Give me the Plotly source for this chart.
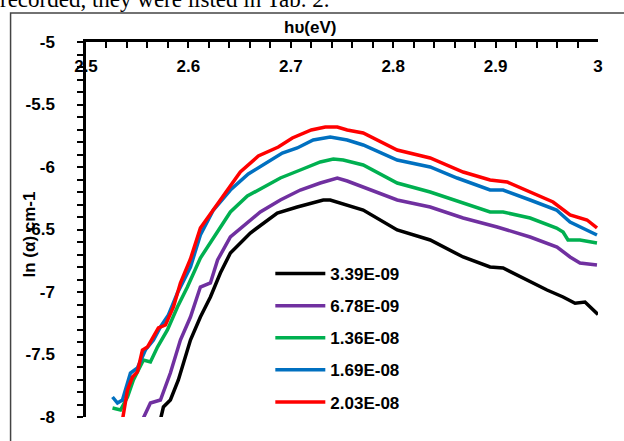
import plotly.graph_objects as go

# ---- data ----
series_names = ["3.39E-09", "6.78E-09", "1.36E-08", "1.69E-08", "2.03E-08"]
series_colors = ["#000000", "#7030A0", "#00B050", "#0070C0", "#FF0000"]

x_black = [2.567, 2.5727, 2.5756, 2.5824, 2.5902, 2.602, 2.6117, 2.6215, 2.6312, 2.641, 2.6605,
           2.6868, 2.7063, 2.7317, 2.7385, 2.7707, 2.8039, 2.8361, 2.8683, 2.8946, 2.9073,
           2.9337, 2.9502, 2.9659, 2.9776, 2.9873, 3.0]
y_black = [-8.1, -8.02, -7.92, -7.864, -7.704, -7.384, -7.2, -7.04, -6.848, -6.688, -6.528,
           -6.368, -6.32, -6.264, -6.264, -6.344, -6.504, -6.584, -6.72, -6.80, -6.808,
           -6.92, -6.984, -7.04, -7.09, -7.08, -7.18]

x_purple = [2.552, 2.5551, 2.5629, 2.5727, 2.5824, 2.5922, 2.602, 2.6117, 2.6215, 2.6285,
            2.641, 2.6576, 2.6702, 2.6898, 2.7093, 2.7288, 2.7454, 2.7551, 2.7707, 2.8039,
            2.8361, 2.8683, 2.9015, 2.9337, 2.96, 2.9727, 2.9824, 2.999]
y_purple = [-8.1, -8.024, -7.888, -7.864, -7.648, -7.384, -7.2, -6.96, -6.928, -6.744,
            -6.56, -6.448, -6.36, -6.264, -6.184, -6.128, -6.088, -6.112, -6.16, -6.264,
            -6.32, -6.408, -6.48, -6.56, -6.64, -6.72, -6.768, -6.784]

x_green = [2.5259, 2.5337, 2.5405, 2.5463, 2.5561, 2.5629, 2.5698, 2.5795, 2.5893, 2.599,
           2.6117, 2.6244, 2.641, 2.6576, 2.6732, 2.6898, 2.7093, 2.7288, 2.7415, 2.7512,
           2.7707, 2.8039, 2.8361, 2.8683, 2.8946, 2.9073, 2.9337, 2.9595, 2.9659, 2.9707,
           2.9824, 2.999]
y_green = [-7.928, -7.944, -7.84, -7.704, -7.544, -7.56, -7.44, -7.304, -7.12, -6.96,
           -6.728, -6.568, -6.36, -6.232, -6.16, -6.088, -6.024, -5.96, -5.936, -5.944,
           -5.984, -6.128, -6.2, -6.288, -6.36, -6.36, -6.408, -6.488, -6.52, -6.584,
           -6.584, -6.608]

x_blue = [2.5259, 2.5307, 2.5356, 2.5434, 2.5502, 2.558, 2.5659, 2.5727, 2.5805, 2.5893,
          2.602, 2.6098, 2.6117, 2.6244, 2.641, 2.6585, 2.6751, 2.6917, 2.7063, 2.7219,
          2.7385, 2.7551, 2.7707, 2.8039, 2.8361, 2.8624, 2.8946, 2.9073, 2.9337, 2.9595,
          2.9727, 2.9922, 2.999]
y_blue = [-7.84, -7.888, -7.864, -7.648, -7.608, -7.464, -7.384, -7.28, -7.184, -7.008,
          -6.8, -6.608, -6.544, -6.344, -6.184, -6.056, -5.976, -5.888, -5.848, -5.784,
          -5.76, -5.784, -5.824, -5.944, -6.0, -6.088, -6.184, -6.184, -6.264, -6.344,
          -6.44, -6.52, -6.544]

x_red = [2.5337, 2.5356, 2.5405, 2.5454, 2.5502, 2.5551, 2.56, 2.5659, 2.5707, 2.5776,
         2.5854, 2.5922, 2.602, 2.6117, 2.6244, 2.638, 2.6507, 2.6683, 2.6878, 2.7015,
         2.72, 2.7337, 2.7454, 2.7551, 2.7707, 2.8039, 2.8361, 2.8683, 2.8946, 2.9112,
         2.9337, 2.9561, 2.9727, 2.9893, 2.999]
y_red = [-8.1, -8.024, -7.784, -7.68, -7.64, -7.464, -7.44, -7.36, -7.288, -7.264,
         -7.12, -6.928, -6.736, -6.488, -6.344, -6.192, -6.04, -5.912, -5.84, -5.768,
         -5.704, -5.68, -5.68, -5.704, -5.728, -5.864, -5.928, -6.04, -6.104, -6.12,
         -6.2, -6.28, -6.384, -6.424, -6.488]

x_tick_vals = [2.5, 2.6, 2.7, 2.8, 2.9, 3.0]
x_tick_text = ["2.5", "2.6", "2.7", "2.8", "2.9", "3"]
y_tick_vals = [-5, -5.5, -6, -6.5, -7, -7.5, -8]
y_tick_text = ["-5", "-5.5", "-6", "-6.5", "-7", "-7.5", "-8"]

xs = [x_black, x_purple, x_green, x_blue, x_red]
ys = [y_black, y_purple, y_green, y_blue, y_red]

W, H = 624, 441
ML, MR, MT, MB = 85.5, 26, 42, 24
PW, PH = W - ML - MR, H - MT - MB

font_b = dict(family="Liberation Sans", size=17, color="black", weight="bold")

fig = go.Figure()
for name, color, xv, yv in zip(series_names, series_colors, xs, ys):
    fig.add_trace(go.Scatter(x=xv, y=yv, mode="lines", name=name, legendgroup=name,
                             line=dict(color=color, width=3.5)))

fig.update_layout(
    width=W, height=H,
    margin=dict(l=ML, r=MR, t=MT, b=MB, pad=0, autoexpand=False),
    paper_bgcolor="white", plot_bgcolor="white",
    showlegend=True,
    legend=dict(x=(270 - ML) / PW, y=(H - MB - 256) / PH, xanchor="left", yanchor="top",
                font=font_b, bgcolor="rgba(0,0,0,0)", tracegroupgap=7,
                itemwidth=50),
    xaxis=dict(range=[2.5, 3.0], side="top", showgrid=False, zeroline=False,
               showline=True, linecolor="black", linewidth=2.5,
               ticks="inside", ticklen=6, tickwidth=2, tickcolor="black",
               tickvals=x_tick_vals, ticktext=x_tick_text,
               ticklabelposition="inside", ticklabeloverflow="allow",
               ticklabelstandoff=13,
               tickfont=font_b,
               minor=dict(dtick=0.02, ticks="inside", ticklen=6, tickwidth=2,
                          tickcolor="black", showgrid=False)),
    yaxis=dict(range=[-8, -5], showgrid=False, zeroline=False,
               showline=True, linecolor="black", linewidth=2.5,
               ticks="outside", ticklen=6, tickwidth=2, tickcolor="black",
               tickvals=y_tick_vals, ticktext=y_tick_text, tickfont=font_b,
               ticklabelstandoff=19,
               minor=dict(dtick=0.1, ticks="outside", ticklen=6, tickwidth=2,
                          tickcolor="black", showgrid=False)),
)

# outer frame of the chart box
fig.add_shape(type="rect", xref="paper", yref="paper",
              x0=(10 - ML) / PW, x1=1.3, y0=-0.3, y1=1 + (MT - 13) / PH,
              line=dict(color="#444444", width=1.5), fillcolor="rgba(0,0,0,0)", layer="below")

# axis titles
fig.add_annotation(text="h\u03c5(eV)", xref="paper", yref="paper",
                   x=(310 - ML) / PW, y=1 + (MT - 28) / PH, showarrow=False,
                   xanchor="center", yanchor="middle", font=font_b)
fig.add_annotation(text="ln (\u03b1) cm-1", xref="paper", yref="paper",
                   x=(29 - ML) / PW, y=(H - MB - 235) / PH, showarrow=False,
                   textangle=-90, xanchor="center", yanchor="middle", font=font_b)

# cut-off line of surrounding document text (only its lower part is in the picture)
fig.add_annotation(text="recorded, they were listed in Tab. 2.", xref="paper", yref="paper",
                   x=(-3 - ML) / PW, y=1 + (MT - 14) / PH, showarrow=False,
                   xanchor="left", yanchor="bottom",
                   font=dict(family="Liberation Serif", size=23, color="black"))

fig.write_html("out.html", config={"displayModeBar": False},
               post_script="document.body.style.margin='0px';")
